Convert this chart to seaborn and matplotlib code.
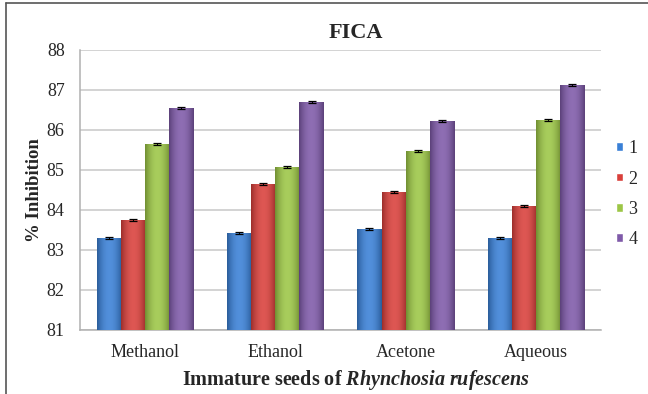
import seaborn as sns
import matplotlib.pyplot as plt
import numpy as np
import pandas as pd
from matplotlib.colors import to_rgb
from matplotlib.lines import Line2D

solvents = ["Methanol", "Ethanol", "Acetone", "Aqueous"]
groups = ["1", "2", "3", "4"]
# % inhibition per solvent, one list per group
g1 = [83.31, 83.42, 83.53, 83.31]
g2 = [83.75, 84.65, 84.46, 84.11]
g3 = [85.65, 85.08, 85.47, 86.25]
g4 = [86.56, 86.69, 86.22, 87.12]
colors = ["#3a80d6", "#d9403b", "#9cc646", "#7f5aa9"]

rows = []
for g, vals in zip(groups, [g1, g2, g3, g4]):
    for s, v in zip(solvents, vals):
        rows.append({"solvent": s, "group": g, "value": v})
df = pd.DataFrame(rows)

sns.set_style("white")
serif = ["Liberation Serif", "DejaVu Serif"]
plt.rcParams["font.family"] = serif
plt.rcParams["mathtext.fontset"] = "custom"
plt.rcParams["mathtext.rm"] = "Liberation Serif"
plt.rcParams["mathtext.bf"] = "Liberation Serif:bold"
plt.rcParams["mathtext.it"] = "Liberation Serif:italic"
plt.rcParams["mathtext.bfit"] = "Liberation Serif:bold:italic"

fig = plt.figure(figsize=(6.48, 3.94), dpi=100)
ax = fig.add_axes([80 / 648, 64 / 394, 521 / 648, 280 / 394])

sns.barplot(data=df, x="solvent", y="value", hue="group", palette=colors,
            width=0.74, errorbar=None, ax=ax, saturation=1, zorder=3)

ax.set_ylim(81, 88)
ax.set_xlim(-0.5, 3.5)

# cylinder-like shading (darker edges, lighter middle) like the Excel bars
t = np.linspace(-1, 1, 64)
shade = 1 - np.abs(t) ** 2
for bar in ax.patches:
    if bar.get_height() == 0:
        continue
    base = np.array(to_rgb(bar.get_facecolor()))
    dark = base * 0.72
    light = base + (1 - base) * 0.12
    grad = dark[None, :] + (light - dark)[None, :] * shade[:, None]
    x0 = bar.get_x()
    x1 = x0 + bar.get_width()
    im = ax.imshow(grad[None, :, :], extent=[x0, x1, 81, bar.get_height()],
                   aspect="auto", zorder=3.5, interpolation="bilinear")
    im.set_clip_path(bar)
    bar.set_edgecolor("none")
    cx = x0 + bar.get_width() / 2
    ax.errorbar(cx, bar.get_height(), yerr=0.025, fmt="none", ecolor="black",
                elinewidth=0.8, capsize=3, capthick=0.9, zorder=4)

ax.set_ylim(81, 88)
ax.set_xlim(-0.5, 3.5)
ax.set_yticks(range(81, 89))
ax.yaxis.grid(True, color="#c8c8c8", linewidth=1.1, zorder=0)
ax.set_axisbelow(True)
for s in ["top", "right"]:
    ax.spines[s].set_visible(False)
for s in ["left", "bottom"]:
    ax.spines[s].set_color("#b0b0b0")
    ax.spines[s].set_linewidth(1.1)

ax.set_xticks([-0.5, 0.5, 1.5, 2.5, 3.5], minor=True)
ax.tick_params(axis="x", which="minor", length=5, width=1, color="#b0b0b0", direction="out")
ax.tick_params(axis="x", which="major", length=0, labelsize=13, pad=10)
ax.tick_params(axis="y", length=5, width=1, color="#c8c8c8", labelsize=13, pad=6)
for lab in ax.get_xticklabels() + ax.get_yticklabels():
    lab.set_family(serif)

ax.set_title("FICA", fontsize=16, fontweight="bold", pad=9, x=0.53)
ax.set_ylabel("% Inhibition", fontsize=13.5, fontweight="bold", labelpad=3)
ax.set_xlabel(r"Immature seeds of $\mathbfit{Rhynchosia\ rufescens}$",
              fontsize=14.5, fontweight="bold", labelpad=5, x=0.53)

ax.legend(loc="center left", bbox_to_anchor=(1.015, 0.485), frameon=False,
          fontsize=13, handlelength=0.38, handleheight=0.38, handletextpad=0.3,
          labelspacing=0.74, borderaxespad=0)

# chart frame: only the left and top edges show in the picture
fig.add_artist(Line2D([6 / 648, 6 / 648], [0, 1 - 3 / 394], transform=fig.transFigure,
                      color="#555555", linewidth=1.2))
fig.add_artist(Line2D([6 / 648, 1], [1 - 3 / 394, 1 - 3 / 394], transform=fig.transFigure,
                      color="#555555", linewidth=1.2))

plt.savefig("out.png", dpi=100)
